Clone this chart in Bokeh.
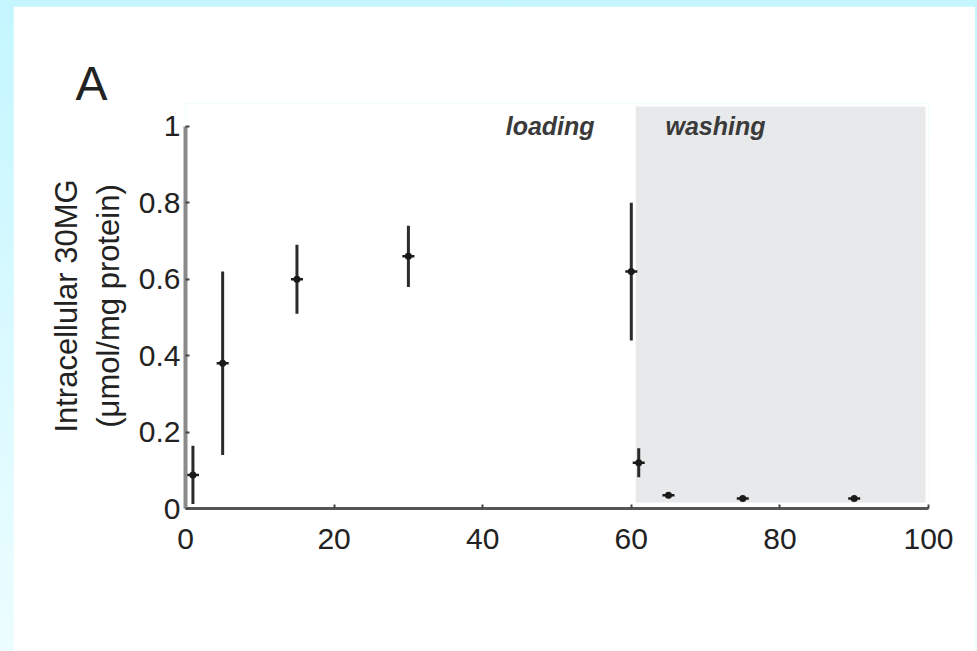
import numpy as np
from bokeh.plotting import figure
from bokeh.models import Range1d, FixedTicker
from bokeh.layouts import column
from bokeh.embed import file_html
from bokeh.resources import INLINE
from bokeh.core.properties import value

# ---- data ----
time_min = [1, 5, 15, 30, 60, 61, 65, 75, 90]
conc = [0.088, 0.38, 0.60, 0.66, 0.62, 0.12, 0.035, 0.026, 0.026]
conc_err = [0.076, 0.24, 0.09, 0.08, 0.18, 0.038, 0.006, 0.005, 0.005]
x_ticks = [0, 20, 40, 60, 80, 100]
y_ticks = [0, 0.2, 0.4, 0.6, 0.8, 1]
y_tick_labels = ["0", "0.2", "0.4", "0.6", "0.8", "1"]
washing_start = 60.6
washing_end = 99.6
phase_labels = ["loading", "washing"]

FONT = "Liberation Sans"

lower = [c - e for c, e in zip(conc, conc_err)]
upper = [c + e for c, e in zip(conc, conc_err)]

p = figure(width=962, height=645,
           x_range=Range1d(0, 100), y_range=Range1d(0, 1.06),
           output_backend="svg", toolbar_location=None,
           min_border_left=172, min_border_right=47,
           min_border_top=97, min_border_bottom=143,
           background_fill_color="white", border_fill_color="white",
           outline_line_color=None, margin=(6, 2, 0, 13))
p.grid.visible = False

# panel letter
p.title.text = "A"
p.title.text_font = FONT
p.title.text_font_size = "48px"
p.title.text_font_style = "normal"
p.title.text_color = "#222222"
p.title.align = "left"
p.title.offset = -110
p.title.standoff = -12

# washing period shading
p.quad(left=[washing_start], right=[washing_end], bottom=[0.016], top=[1.052],
       fill_color="#e8e9eb", line_color=None)

# error bars and points
p.segment(x0=time_min, y0=lower, x1=time_min, y1=upper,
          line_width=3, line_color="#2b2b2b")
p.scatter(time_min, conc, marker="circle", size=7,
          fill_color="#1a1a1a", line_color=None)
p.scatter(time_min, conc, marker="dash", size=12, line_width=2.5,
          line_color="#1a1a1a")

# phase labels
p.text(x=[43.1, 64.6], y=[1.0, 1.0], text=phase_labels,
       text_font=value(FONT), text_font_size="25px",
       text_font_style="bold italic", text_color="#3a3a3a",
       text_baseline="middle", text_align="left")

# axes
for ax in (p.xaxis[0], p.yaxis[0]):
    ax.major_tick_in = 4
    ax.major_tick_out = 0
    ax.minor_tick_line_color = None
    ax.major_tick_line_color = "#444444"
    ax.major_tick_line_width = 2
    ax.major_label_text_font = FONT
    ax.major_label_text_font_size = "30px"
    ax.major_label_text_color = "#222222"

p.xaxis[0].ticker = FixedTicker(ticks=x_ticks)
p.xaxis[0].axis_line_color = "#555555"
p.xaxis[0].axis_line_width = 3
p.xaxis[0].major_label_standoff = 20

p.yaxis[0].ticker = FixedTicker(ticks=y_ticks)
p.yaxis[0].major_label_overrides = {t: s for t, s in zip(y_ticks, y_tick_labels)}
p.yaxis[0].bounds = (0, 1)
p.yaxis[0].axis_line_color = "#8a8a8a"
p.yaxis[0].axis_line_width = 4
p.yaxis[0].major_label_standoff = 5
p.yaxis[0].axis_label = "Intracellular 30MG\n(\u03bcmol/mg protein)"
p.yaxis[0].axis_label_text_font = FONT
p.yaxis[0].axis_label_text_font_size = "31px"
p.yaxis[0].axis_label_text_font_style = "normal"
p.yaxis[0].axis_label_text_color = "#222222"
p.yaxis[0].axis_label_standoff = 10

root = column(p, styles={"background": "linear-gradient(to bottom, #c4f6ff, #ecfdff)"})

open("out.html", "w").write(file_html(root, INLINE))
